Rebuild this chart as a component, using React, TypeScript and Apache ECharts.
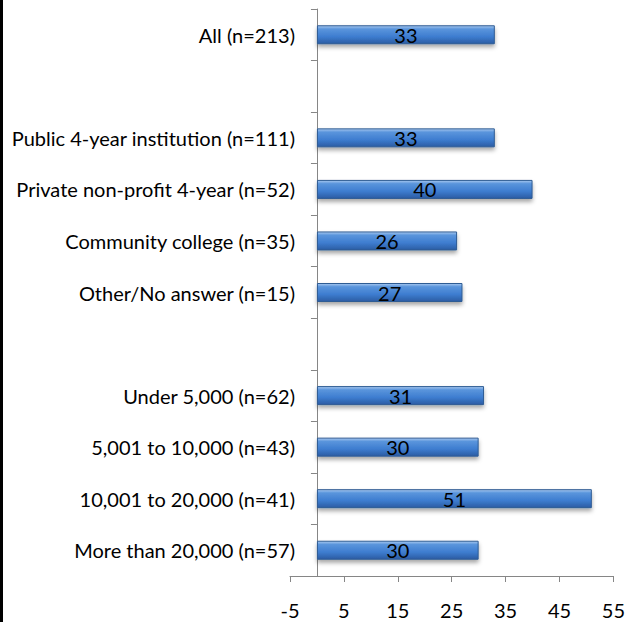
import React, { useEffect, useRef } from "react";
import * as echarts from "echarts";

const categories = [
  "All (n=213)",
  " ",
  "Public 4-year institution (n=111)",
  "Private non-profit 4-year (n=52)",
  "Community college (n=35)",
  "Other/No answer (n=15)",
  "  ",
  "Under 5,000 (n=62)",
  "5,001 to 10,000 (n=43)",
  "10,001 to 20,000 (n=41)",
  "More than 20,000 (n=57)",
];
const values: (number | null)[] = [33, null, 33, 40, 26, 27, null, 31, 30, 51, 30];
const xMin = -5;
const xMax = 55;
const xInterval = 10;

const FONT = "Lato";

export default function App() {
  const ref = useRef<HTMLDivElement>(null);
  useEffect(() => {
    if (!ref.current) return;
    const chart = echarts.init(ref.current, undefined, { renderer: "svg" });
    const barColor = new echarts.graphic.LinearGradient(0, 0, 0, 1, [
      { offset: 0, color: "#a9c9f0" },
      { offset: 0.18, color: "#5a95dc" },
      { offset: 0.6, color: "#3e7dd0" },
      { offset: 1, color: "#2b5ca3" },
    ]);
    chart.setOption({
      animation: false,
      backgroundColor: "#ffffff",
      grid: { left: 290, right: 11, top: 9, bottom: 46, containLabel: false },
      xAxis: {
        type: "value",
        min: xMin,
        max: xMax,
        interval: xInterval,
        axisLine: { show: true, onZero: false, lineStyle: { color: "#868686", width: 1 } },
        axisTick: { show: true, length: 6, lineStyle: { color: "#868686" } },
        splitLine: { show: false },
        axisLabel: {
          color: "#000",
          fontSize: 20,
          lineHeight: 18,
          fontFamily: FONT,
          margin: 25,
        },
      },
      yAxis: {
        type: "category",
        inverse: true,
        data: categories,
        axisLine: { show: true, onZero: true, lineStyle: { color: "#868686", width: 1 } },
        axisTick: { show: true, length: 6, lineStyle: { color: "#868686" } },
        axisLabel: { color: "#000", fontSize: 20, fontFamily: FONT, margin: -5 },
      },
      series: [
        {
          type: "bar",
          data: values,
          barWidth: 19,
          itemStyle: {
            color: barColor,
            borderColor: "#2f5c94",
            borderWidth: 1,
            shadowColor: "rgba(0,0,0,0.35)",
            shadowBlur: 4,
            shadowOffsetY: 3,
          },
          label: {
            show: true,
            position: "inside",
            color: "#000",
            fontSize: 20,
            fontFamily: FONT,
          },
        },
      ],
      graphic: [
        {
          type: "rect",
          left: 0,
          top: 0,
          shape: { width: 3, height: 622 },
          style: { fill: "#000" },
        },
      ],
    });
    return () => chart.dispose();
  }, []);
  return (
    <div
      ref={ref}
      style={{ position: "absolute", left: 0, top: 0, width: 628, height: 622 }}
    />
  );
}
